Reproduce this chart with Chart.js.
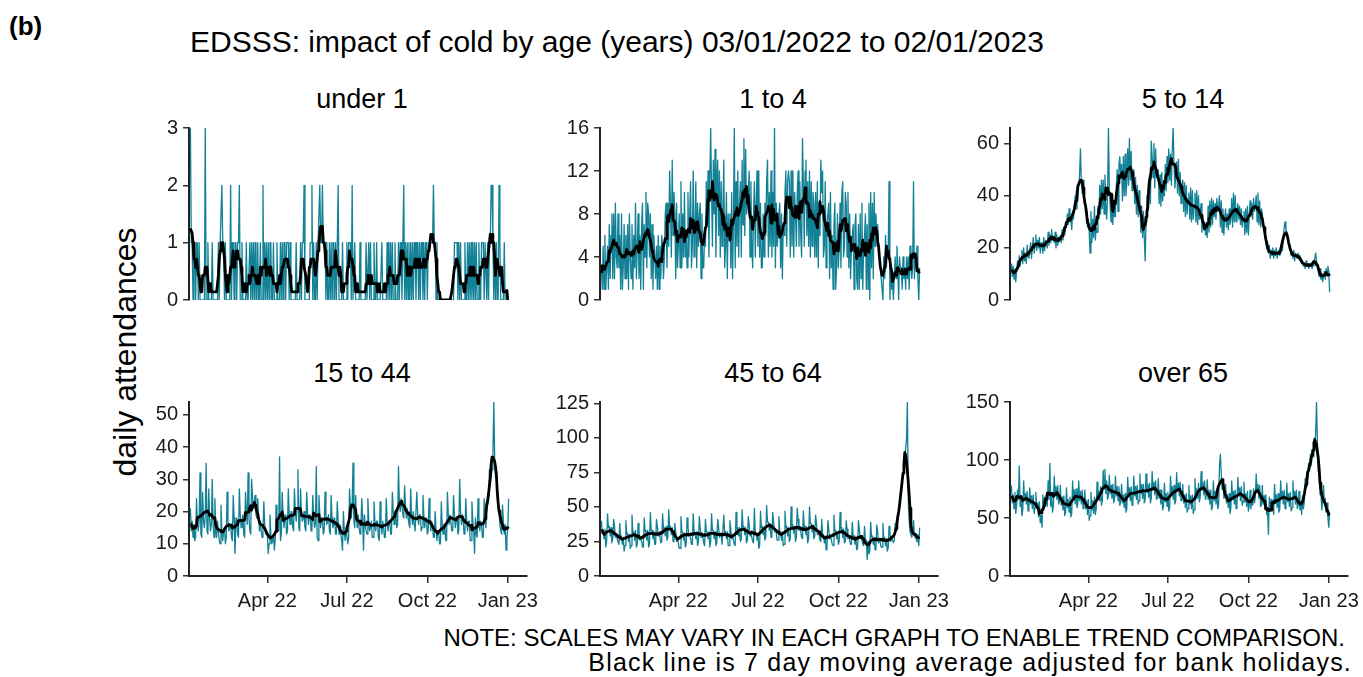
<!DOCTYPE html>
<html>
<head>
<meta charset="utf-8">
<script src="https://cdn.jsdelivr.net/npm/chart.js@4.4.1/dist/chart.umd.min.js"></script>
<style>
  body { margin: 0; width: 1363px; height: 677px; overflow: hidden; position: relative; background: #fff;
         font-family: Arial, "Liberation Sans", sans-serif; color: #000; }
  .txt { position: absolute; white-space: nowrap; line-height: 1; }
  canvas { position: absolute; }
</style>
</head>
<body>
<div class="txt" style="left:9px;top:13px;font-size:26px;font-weight:bold">(b)</div>
<div class="txt" style="left:190px;top:27px;font-size:30px">EDSSS: impact of cold by age (years) 03/01/2022 to 02/01/2023</div>
<div class="txt" style="left:125px;top:352px;font-size:32px;transform:translate(-50%,-50%) rotate(-90deg)">daily attendances</div>
<div class="txt" style="right:18px;top:626px;font-size:24px">NOTE: SCALES MAY VARY IN EACH GRAPH TO ENABLE TREND COMPARISON.</div>
<div class="txt" style="right:11px;top:650px;font-size:25px;letter-spacing:1.2px">Black line is 7 day moving average adjusted for bank holidays.</div>

<script>
// Daily attendances, one value per day from 03/01/2022 (day 0) to 02/01/2023 (day 364)
const under1 = [
  3,1,1,0,1,1,0, 1,1,0,1,0,0,0, 0,0,0,3,0,0,1, 0,0,0,0,1,0,0,
  0,0,0,0,1,0,1, 1,2,1,1,0,1,0, 0,0,0,0,2,0,1, 1,0,1,1,0,1,1,
  2,0,0,1,0,0,0, 0,1,0,0,0,1,0, 1,0,1,0,1,0,0, 1,0,0,1,0,0,2,
  0,1,0,1,0,1,0, 1,1,0,0,1,0,0, 0,1,0,0,0,1,0, 1,0,1,1,0,1,1,
  1,0,1,0,0,0,0, 0,0,1,0,0,0,0, 1,0,1,1,2,0,0, 0,0,0,0,1,1,2,
  0,1,0,0,1,0,1, 1,2,1,1,2,1,1, 1,0,1,0,0,1,0, 1,0,1,1,0,1,0,
  1,2,0,0,0,0,1, 0,0,0,0,1,0,1, 1,1,0,2,0,0,1, 0,0,0,0,0,1,0,
  0,0,0,0,0,1,0, 0,1,0,1,0,0,0, 1,0,0,1,0,0,0, 0,0,1,0,0,0,0,
  0,1,0,1,0,1,0, 1,0,0,1,0,0,0, 1,0,1,1,0,1,2, 0,1,0,1,0,1,0,
  1,0,1,0,1,1,0, 1,1,0,1,0,1,1, 0,1,0,1,1,0,1, 1,1,1,1,1,2,1,
  1,0,1,0,0,0,0, 0,0,0,0,0,0,0, 0,0,0,0,0,0,0, 0,1,1,1,1,0,1,
  0,1,0,0,0,0,1, 0,0,1,0,1,0,1, 0,1,0,1,0,1,0, 0,1,0,0,1,1,1,
  0,1,1,0,1,0,1, 1,2,2,1,0,1,0, 1,0,0,2,1,0,0, 0,0,1,0,0,0,0,
  0
];
const age1to4 = [
  3,1,5,1,6,1,3, 5,1,7,2,6,8,2, 8,2,9,4,3,8,3, 6,1,8,1,3,7,2,
  6,2,7,1,8,4,2, 7,1,6,3,9,2,5, 8,2,6,1,7,9,1, 7,4,10,3,9,8,4,
  8,2,7,1,6,4,2, 5,1,6,1,5,2,6, 5,2,4,8,9,3,9, 5,12,9,4,13,6,10,
  8,2,9,3,5,8,3, 11,3,8,4,10,4,6, 3,10,4,8,11,3,5, 12,4,6,11,3,9,5,
  8,9,2,8,3,3,6, 5,11,7,12,4,11,16, 10,5,13,8,14,4,11, 13,6,12,4,11,5,8,
  13,3,5,10,2,8,6, 8,3,10,2,7,16,3, 11,5,12,4,9,11,4, 13,7,15,6,14,8,9,
  10,12,4,11,5,3,8, 11,4,9,12,5,12,4, 9,3,3,8,4,9,6, 11,13,4,10,5,12,4,
  10,5,16,3,9,5,6, 8,9,3,8,2,7,6, 10,12,5,11,12,11,4, 12,5,12,4,10,8,5,
  10,12,5,11,6,4,15, 11,5,12,13,6,11,5, 12,4,11,5,10,9,4, 10,4,11,3,9,6,13,
  10,12,4,5,11,3,7, 8,9,2,10,3,6,1, 7,9,1,3,8,3,5, 9,3,10,11,4,5,10,
  9,4,10,3,8,2,5, 6,7,1,7,8,2,1, 7,1,8,2,9,1,5, 6,8,1,7,1,9,0,
  10,3,9,2,10,5,8, 6,7,5,4,3,2,1, 0,4,2,6,3,5,4, 11,0,3,1,2,0,2,
  4,2,5,3,0,4,3, 3,1,4,2,3,1,4, 2,4,1,5,3,2,3, 11,2,4,3,5,2,0,
  3
];
const age5to14 = [
  14,9,13,8,12,7,11, 15,12,17,13,16,19,14, 20,15,18,14,21,17,16, 19,22,16,20,24,18,21,
  25,19,23,20,24,18,22, 21,18,24,19,23,22,20, 26,21,25,22,27,23,24, 22,26,20,25,21,24,23,
  24,22,27,23,28,25,30, 28,33,29,35,30,32,27, 34,31,36,40,35,42,39, 44,48,58,45,41,46,40,
  38,33,35,28,31,26,18, 34,22,31,24,36,23,28, 26,36,31,44,33,46,35, 46,33,48,36,31,41,66,
  43,36,30,41,29,38,32, 32,44,50,34,52,55,47, 52,38,55,40,56,40,45, 58,44,62,46,57,42,48,
  50,37,47,33,44,32,42, 38,26,36,24,34,24,15, 30,40,34,46,48,37,61, 55,47,60,43,58,47,50,
  50,37,48,36,49,38,43, 40,52,42,55,45,58,46, 56,44,58,66,52,43,48, 53,41,54,40,49,37,44,
  46,34,45,32,44,33,39, 41,31,43,30,42,31,36, 41,30,42,29,40,31,34, 37,26,32,27,30,25,27,
  24,36,26,38,28,39,29, 38,32,37,31,39,34,36, 40,28,38,26,35,25,32, 35,28,33,27,35,29,31,
  39,28,41,30,40,30,34, 37,31,36,29,35,28,31, 34,25,35,26,36,25,32, 38,32,37,31,39,34,36,
  40,30,41,29,38,28,35, 33,30,28,26,22,20,19, 18,21,16,19,17,20,16, 19,17,20,16,18,19,17,
  18,21,19,24,28,30,27, 26,24,22,20,19,17,18, 16,19,15,18,17,16,18, 17,15,16,14,15,13,14,
  12,15,13,14,12,14,13, 14,12,15,13,16,18,15, 13,11,9,12,8,10,7, 9,11,8,12,10,13,11,
  3
];
const age15to44 = [
  21,14,17,12,16,11,12, 24,16,14,17,32,13,12, 26,17,15,19,35,14,13, 27,18,14,16,30,16,12,
  24,15,12,17,14,11,10, 22,14,11,14,15,10,12, 26,17,14,15,16,12,11, 25,18,7,16,18,13,12,
  27,19,15,16,19,13,12, 26,20,16,32,18,14,13, 30,25,21,22,25,19,18, 24,18,14,17,14,12,14,
  23,16,13,13,13,7,10, 19,13,10,11,13,8,11, 22,15,14,14,37,11,13, 26,19,15,18,19,13,14,
  27,19,16,20,20,15,14, 27,20,17,21,33,15,14, 27,20,17,18,20,15,14, 26,20,16,19,19,14,15,
  25,18,15,16,34,12,11, 25,19,15,18,18,13,14, 26,19,16,17,19,14,13, 25,18,15,16,18,13,13,
  23,17,13,16,13,11,8, 20,14,11,15,15,10,12, 27,21,18,22,35,17,15, 25,18,15,19,15,13,15,
  24,18,8,19,16,14,13, 24,17,14,15,17,12,12, 23,17,14,17,17,12,11, 23,16,13,17,15,12,12,
  24,17,14,17,17,13,13, 26,20,16,19,20,15,16, 34,23,20,24,24,19,18, 28,22,18,21,18,16,15,
  27,19,16,20,16,14,14, 26,19,16,19,19,14,15, 25,19,15,18,18,13,14, 24,18,14,17,15,12,12,
  20,14,11,14,14,10,10, 23,16,13,16,16,11,11, 26,19,16,19,19,14,14, 25,19,15,18,18,13,14,
  30,20,16,19,17,13,14, 24,17,14,17,17,11,11, 23,17,14,7,18,13,12, 24,18,14,17,16,12,12,
  24,18,15,21,22,23,33, 33,31,33,37,54,37,31, 30,27,21,20,16,14,13, 22,17,13,16,8,12,15,
  24
];
const age45to64 = [
  40,31,33,27,34,21,25, 45,35,36,29,35,24,27, 41,36,28,30,27,25,23, 38,28,29,23,28,18,22,
  40,30,31,25,30,20,22, 44,31,32,26,33,21,23, 38,33,26,28,25,21,21, 42,32,33,26,33,21,23,
  46,33,33,27,32,23,23, 41,36,29,31,28,24,25, 45,34,35,29,36,26,28, 48,35,36,30,35,25,27,
  38,32,25,27,24,20,20, 43,32,32,26,31,21,23, 42,36,29,30,27,23,23, 45,33,33,27,32,22,25,
  43,35,28,30,28,24,22, 41,32,32,27,32,21,25, 45,33,33,27,32,22,24, 41,36,28,30,29,23,23,
  44,31,32,27,32,22,22, 40,34,27,29,26,23,22, 46,34,35,29,35,25,27, 48,35,36,30,35,24,26,
  43,37,29,31,28,25,24, 49,31,31,26,31,20,22, 47,35,36,30,35,26,28, 51,39,39,33,38,28,31,
  46,39,32,34,31,26,26, 43,32,32,26,32,22,23, 47,35,36,29,35,25,27, 50,36,37,31,36,25,28,
  49,41,33,35,32,28,27, 47,35,36,30,35,24,27, 50,38,38,32,37,27,29, 44,38,30,33,30,26,25,
  41,29,30,24,29,19,21, 40,34,27,29,26,23,22, 44,33,33,27,32,23,25, 46,34,35,28,34,24,25,
  40,34,27,29,26,23,23, 39,28,29,23,28,19,20, 40,34,27,29,26,23,22, 36,25,26,12,25,16,18,
  39,28,29,23,28,19,20, 37,32,24,27,24,21,21, 38,27,28,22,27,18,20, 36,32,25,28,26,24,26,
  38,35,33,40,45,52,58, 62,68,75,80,86,92,100, 126,55,40,32,30,28,32, 40,30,28,27,25,30,22,
  35
];
const over65 = [
  78,63,70,58,72,54,61, 74,66,95,60,68,52,57, 82,66,71,62,73,56,60, 76,62,69,58,70,54,59,
  72,58,63,51,64,46,52, 42,70,58,68,63,64,60, 82,66,97,60,72,55,60, 86,70,77,66,78,62,65,
  78,61,68,57,69,52,55, 76,59,66,55,68,51,54, 82,67,74,62,75,59,62, 82,65,73,62,74,58,61,
  74,58,65,53,66,48,52, 72,57,65,54,68,53,58, 81,66,73,65,77,61,65, 91,75,92,71,82,66,69,
  87,71,78,67,79,63,66, 86,69,77,65,77,61,64, 79,63,70,59,71,55,58, 85,69,76,65,77,61,64,
  86,69,77,66,78,62,65, 88,71,79,67,79,63,66, 88,72,79,68,80,63,67, 90,74,81,70,82,66,68,
  84,67,74,62,74,57,60, 80,64,71,60,72,56,59, 86,70,77,66,78,62,65, 89,73,80,69,81,65,68,
  79,63,70,59,71,55,58, 78,62,69,58,70,54,57, 84,67,75,67,80,64,68, 90,74,81,70,82,66,69,
  83,66,74,62,74,57,60, 82,65,73,62,74,58,61, 95,105,89,75,83,67,68, 79,63,70,59,71,54,58,
  82,66,73,62,74,58,61, 85,69,76,65,77,61,64, 81,64,71,60,73,56,60, 74,58,67,61,75,63,68,
  88,72,79,67,78,60,61, 78,62,69,58,70,53,56, 36,68,56,66,60,59,53, 79,63,70,59,71,55,58,
  82,66,73,62,74,58,61, 80,64,71,60,72,56,59, 82,66,73,62,74,58,61, 73,57,64,53,69,58,64,
  84,77,90,83,97,91,105, 95,109,103,115,109,123,150, 116,90,90,70,73,57,65, 78,61,67,55,63,50,42,
  55
];

// Axis ticks: x is days since 03/01/2022
const xTickDays = [88, 179, 271, 363];
const xTickLabels = ['Apr 22', 'Jul 22', 'Oct 22', 'Jan 23'];
const panelTitles = ['under 1', '1 to 4', '5 to 14', '15 to 44', '45 to 64', 'over 65'];
const yTicksUnder1 = [0, 1, 2, 3];
const yTicks1to4 = [0, 4, 8, 12, 16];
const yTicks5to14 = [0, 20, 40, 60];
const yTicks15to44 = [0, 10, 20, 30, 40, 50];
const yTicks45to64 = [0, 25, 50, 75, 100, 125];
const yTicksOver65 = [0, 50, 100, 150];

const series = [under1, age1to4, age5to14, age15to44, age45to64, over65];
const yTicks = [yTicksUnder1, yTicks1to4, yTicks5to14, yTicks15to44, yTicks45to64, yTicksOver65];

// 7 day centred moving average of a daily series
function movingAverage(values) {
    return values.map((v, i) => {
        const win = values.slice(Math.max(0, i - 3), i + 4);
        return win.reduce((a, b) => a + b, 0) / win.length;
    });
}

// Panel geometry
const colLeft = [189, 600, 1010];
const rowTop = [125, 399];
const rowBottom = [303, 576];
const areaWidth = 338;
const xMin = -1.6, xMax = 385;
const AX_W = 70, PAD_T = 14, PAD_R = 48, AX_H = 48;

const FONT = 'Arial, "Liberation Sans", sans-serif';
const BLUE = 'rgb(18, 129, 150)';

series.forEach((values, i) => {
    const row = Math.floor(i / 3), col = i % 3;
    const bottomRow = row === 1;
    const h = rowBottom[row] - rowTop[row];

    // panel title
    const t = document.createElement('div');
    t.className = 'txt';
    t.textContent = panelTitles[i];
    t.style.cssText = `left:${colLeft[col] + 4}px;width:${areaWidth}px;text-align:center;top:${rowTop[row] - 39}px;font-size:27px`;
    document.body.appendChild(t);

    const canvas = document.createElement('canvas');
    canvas.width = AX_W + areaWidth + PAD_R;
    canvas.height = PAD_T + h + (bottomRow ? AX_H : PAD_T);
    canvas.style.left = (colLeft[col] - AX_W) + 'px';
    canvas.style.top = (rowTop[row] - PAD_T) + 'px';
    document.body.appendChild(canvas);

    const ticks = yTicks[i];
    const avg = movingAverage(values);
    const top = Math.max(ticks[ticks.length - 1], ...values);

    new Chart(canvas, {
        type: 'line',
        data: {
            datasets: [{
                data: avg.map((v, d) => ({ x: d, y: v })),
                borderColor: '#000',
                borderWidth: 2.8
            }, {
                data: values.map((v, d) => ({ x: d, y: v })),
                borderColor: BLUE,
                borderWidth: 1.3
            }]
        },
        options: {
            responsive: false,
            animation: false,
            events: [],
            layout: { padding: { left: 0, top: PAD_T, right: PAD_R, bottom: bottomRow ? 0 : PAD_T } },
            elements: {
                point: { radius: 0 },
                line: { tension: 0, borderJoinStyle: 'round' }
            },
            plugins: { legend: { display: false }, tooltip: { enabled: false }, title: { display: false } },
            scales: {
                x: {
                    type: 'linear',
                    min: xMin,
                    max: xMax,
                    display: bottomRow,
                    afterBuildTicks: s => { s.ticks = xTickDays.map(v => ({ value: v })); },
                    afterFit: s => { if (bottomRow) s.height = AX_H; },
                    grid: { display: true, drawOnChartArea: false, drawTicks: true, tickLength: 7, color: '#333', lineWidth: 1.5 },
                    border: { display: true, color: '#222', width: 2 },
                    ticks: {
                        autoSkip: false,
                        maxRotation: 0,
                        padding: 6,
                        color: '#1a1a1a',
                        font: { family: FONT, size: 20 },
                        callback: (v, idx) => xTickLabels[idx]
                    }
                },
                y: {
                    min: 0,
                    max: top,
                    afterBuildTicks: s => { s.ticks = ticks.map(v => ({ value: v })); },
                    afterFit: s => { s.width = AX_W; },
                    grid: { display: true, drawOnChartArea: false, drawTicks: true, tickLength: 6, color: '#333', lineWidth: 1.5 },
                    border: { display: true, color: '#222', width: 2 },
                    ticks: {
                        padding: 5,
                        color: '#1a1a1a',
                        font: { family: FONT, size: 20 },
                        callback: v => String(v)
                    }
                }
            }
        }
    });
});
</script>
</body>
</html>
